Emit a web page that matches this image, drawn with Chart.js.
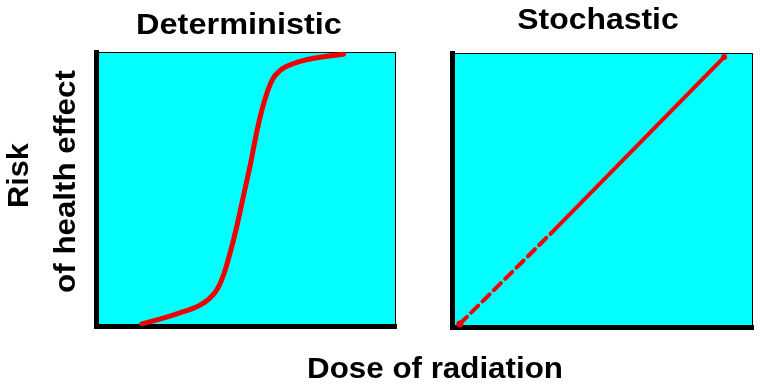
<!DOCTYPE html>
<html>
<head>
<meta charset="utf-8">
<script src="https://cdn.jsdelivr.net/npm/chart.js@4.4.1/dist/chart.umd.min.js"></script>
<style>
  body { margin: 0; background: #fff; width: 760px; height: 390px; position: relative; overflow: hidden; }
  canvas { position: absolute; top: 0; }
  .lbl {
    position: absolute;
    font-family: "Liberation Sans", Arial, sans-serif;
    font-weight: bold;
    font-size: 29px;
    line-height: 29px;
    height: 29px;
    color: #000;
    white-space: nowrap;
    text-align: center;
  }
</style>
</head>
<body>
<canvas id="detChart" width="420" height="390" style="left:0"></canvas>
<canvas id="stoChart" width="340" height="390" style="left:420px"></canvas>

<div class="lbl" style="left:139px; top:9.5px; width:200px; transform:scaleX(1.12)">Deterministic</div>
<div class="lbl" style="left:498px; top:4.5px; width:200px; transform:scaleX(1.1)">Stochastic</div>
<div class="lbl" style="left:285px; top:353.5px; width:300px; transform:scaleX(1.08)">Dose of radiation</div>
<div class="lbl" style="left:-82px; top:161px; width:200px; transform:rotate(-90deg) scaleX(1.06)">Risk</div>
<div class="lbl" style="left:-85px; top:167px; width:300px; transform:rotate(-90deg) scaleX(1.08)">of health effect</div>

<script>
// Deterministic: S-shaped dose/risk curve (0-100 scale)
const detDose = [15.3, 22.7, 28.2, 33.8, 37.6, 40.4, 42.6, 44.9, 47.1, 49.3, 51.5, 53.7, 55.9, 58.7, 61.5, 65.9, 72.5, 82.5];
const detRisk = [0.8, 3.0, 4.9, 7.1, 9.8, 13.4, 18.9, 27.5, 37.2, 48.2, 59.2, 71.4, 81.2, 89.7, 93.4, 95.8, 97.7, 99.2];

// Stochastic: straight line, dashed in the low-dose part
const stoDose = [2.6, 32.8, 90.4];
const stoRisk = [1.1, 34.1, 98.5];

const RED = '#f00000';
const CYAN = '#00ffff';

// cyan plot area with a thin frame on top and right
const panelBackground = {
    id: 'panelBackground',
    beforeDraw(chart) {
        const { ctx, chartArea: a } = chart;
        ctx.save();
        ctx.fillStyle = CYAN;
        ctx.fillRect(a.left, a.top, a.right - a.left, a.bottom - a.top);
        ctx.strokeStyle = '#000';
        ctx.lineWidth = 1;
        ctx.beginPath();
        ctx.moveTo(a.left, a.top + 0.5);
        ctx.lineTo(a.right - 0.5, a.top + 0.5);
        ctx.lineTo(a.right - 0.5, a.bottom);
        ctx.stroke();
        ctx.restore();
    }
};

function axis() {
    return {
        type: 'linear',
        min: 0,
        max: 100,
        ticks: { display: false },
        grid: { display: false, drawTicks: false },
        border: { display: true, width: 5, color: '#000' }
    };
}

function makeChart(id, dose, risk, dataset, padding) {
    const points = dose.map((d, i) => ({ x: d, y: risk[i] }));
    return new Chart(document.getElementById(id), {
        type: 'line',
        data: { datasets: [Object.assign({ data: points, borderColor: RED, clip: false }, dataset)] },
        options: {
            responsive: false,
            animation: false,
            layout: { padding: padding },
            plugins: { legend: { display: false }, tooltip: { enabled: false } },
            scales: { x: axis(), y: axis() }
        },
        plugins: [panelBackground]
    });
}

makeChart('detChart', detDose, detRisk, {
    borderWidth: 5,
    borderCapStyle: 'round',
    cubicInterpolationMode: 'monotone',
    pointRadius: 0
}, { left: 96, top: 52, right: 24, bottom: 64 });

makeChart('stoChart', stoDose, stoRisk, {
    borderWidth: 4,
    borderCapStyle: 'round',
    pointRadius: [3.5, 0, 3],
    pointBackgroundColor: RED,
    pointBorderWidth: 0,
    segment: {
        borderDash: ctx => ctx.p0DataIndex === 0 ? [10, 6] : undefined
    }
}, { left: 32, top: 53, right: 7, bottom: 63 });
</script>
</body>
</html>
